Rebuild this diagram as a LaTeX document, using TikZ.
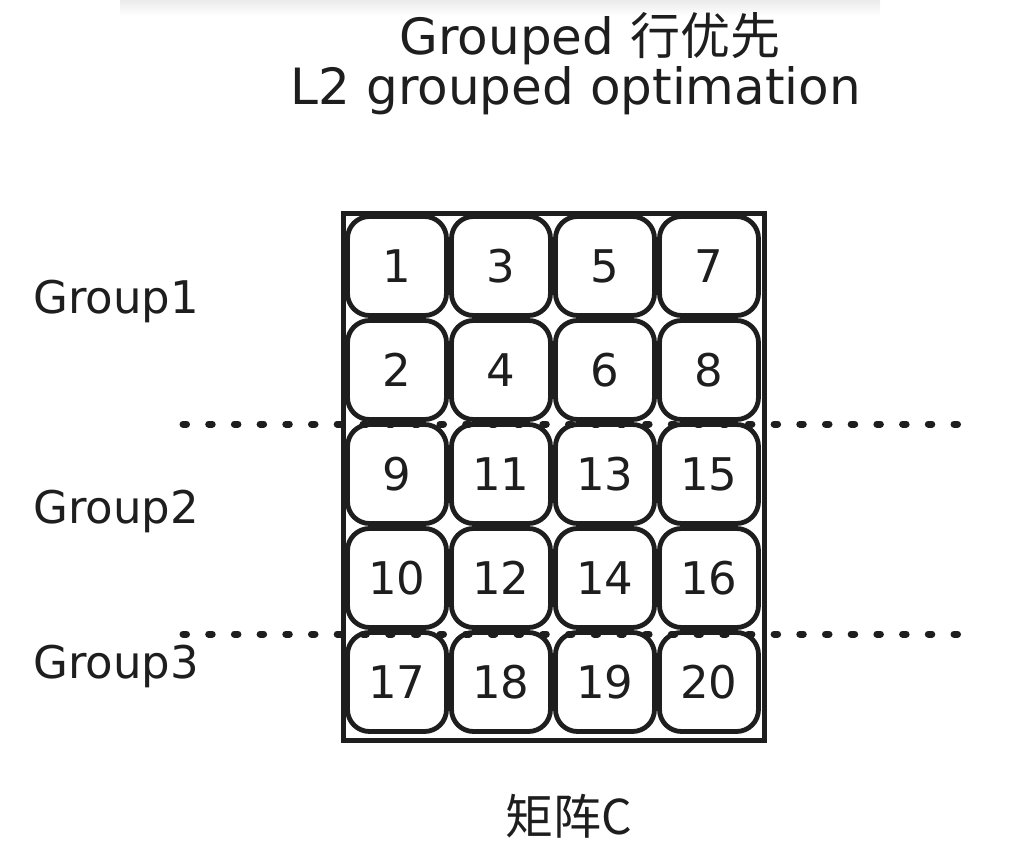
\documentclass[tikz,border=0pt]{standalone}
\usepackage{fontspec}
\setmainfont{DejaVu Sans}
\newfontfamily\cjk{Noto Sans CJK SC}
\definecolor{ink}{HTML}{1E1E1E}
\begin{document}
\begin{tikzpicture}[x=1pt,y=-1pt,
  cell/.style={draw=ink, line width=4.8pt, fill=white, rounded corners=22pt,
    minimum width=99pt, minimum height=99pt, inner sep=0pt, text=ink,
    font=\fontsize{45}{45}\selectfont},
  lbl/.style={text=ink, inner sep=0pt, font=\fontsize{45}{45}\selectfont},
  dotline/.style={draw=ink, line width=7pt, line cap=round, dash pattern=on 3.5pt off 22.2pt}
]
\useasboundingbox (0,0) rectangle (1021,867);
% faint shadow at top
\shade[top color=black!8, bottom color=white] (120,0) rectangle (880,16);
% titles
\node[lbl, anchor=base, font=\fontsize{50}{50}\selectfont] (t1) at (590,55) {Grouped {\cjk 行优先}};
\node[lbl, anchor=base, font=\fontsize{50}{50}\selectfont] (t2) at (576,105) {L2 grouped optimation};
% outer frame
\draw[ink, line width=5pt] (343,213) rectangle (764,740);
% cells
\foreach \c/\r/\t in {0/0/1,0/1/2,1/0/3,1/1/4,2/0/5,2/1/6,3/0/7,3/1/8,
  0/2/9,0/3/10,1/2/11,1/3/12,2/2/13,2/3/14,3/2/15,3/3/16,
  0/4/17,1/4/18,2/4/19,3/4/20}
  \node[cell] (c\t) at ({397+104*\c},{266+104*\r}) {\t};
% dotted separators
\coordinate (d1a) at (183,424);
\coordinate (d1b) at (965,424);
\coordinate (d2a) at (183,634);
\coordinate (d2b) at (965,634);
\draw[dotline] (d1a) -- (d1b);
\draw[dotline] (d2a) -- (d2b);
% group labels
\node[lbl, anchor=base west] (g1) at (33,313) {Group1};
\node[lbl, anchor=base west] (g2) at (33,523) {Group2};
\node[lbl, anchor=base west] (g3) at (33,678) {Group3};
% caption
\node[lbl, anchor=base, font=\cjk\fontsize{48}{48}\selectfont] (cap) at (569,834) {矩阵C};
\end{tikzpicture}
\end{document}
